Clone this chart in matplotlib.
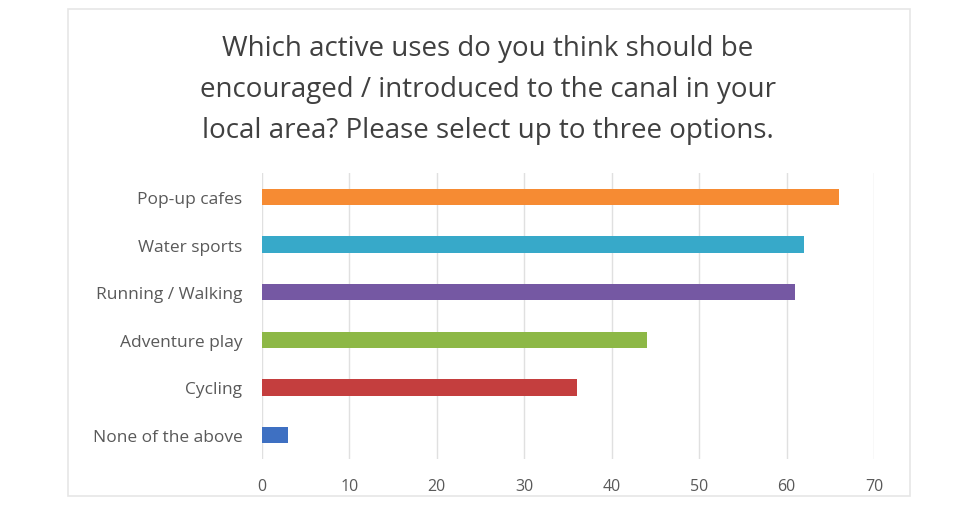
import matplotlib.pyplot as plt
from matplotlib.patches import Rectangle

categories = ["Pop-up cafes", "Water sports", "Running / Walking",
              "Adventure play", "Cycling", "None of the above"]
counts = [66, 62, 61, 44, 36, 3]
colors = ["#F68B33", "#37A9C9", "#7558A3", "#8DB846", "#C43E3E", "#3E70C2"]
xticks = [0, 10, 20, 30, 40, 50, 60, 70]

plt.rcParams["font.family"] = ["Open Sans", "DejaVu Sans"]

fig = plt.figure(figsize=(9.66, 5.06), dpi=100)
ax = fig.add_axes([0.271, 0.091, 0.634, 0.565])

# outer frame of the screenshot
fig.patches.append(Rectangle((68 / 966, 1 - 497 / 506), (910 - 68) / 966, (497 - 10) / 506,
                             transform=fig.transFigure, fill=False,
                             edgecolor="#e6e6e6", linewidth=1.2))

ypos = list(range(len(categories)))
ax.barh(ypos, counts, height=0.34, color=colors, zorder=3)
ax.set_ylim(len(categories) - 0.5, -0.5)
ax.set_xlim(0, 70)
ax.set_yticks(ypos)
ax.set_yticklabels(categories, fontsize=12.5, color="#595959")
ax.set_xticks(xticks)
ax.set_xticklabels([str(t) for t in xticks], fontsize=11.5, color="#595959")
ax.tick_params(length=0)
ax.tick_params(axis="y", pad=14)
ax.tick_params(axis="x", pad=14)
ax.grid(axis="x", color="#e0e0e0", linewidth=1, zorder=0)
for s in ax.spines.values():
    s.set_visible(False)

fig.text(0.505, 0.822,
         "Which active uses do you think should be\n"
         "encouraged / introduced to the canal in your\n"
         "local area? Please select up to three options.",
         ha="center", va="center", fontsize=20, color="#404040", linespacing=1.6)

fig.savefig("out.png", dpi=100)
